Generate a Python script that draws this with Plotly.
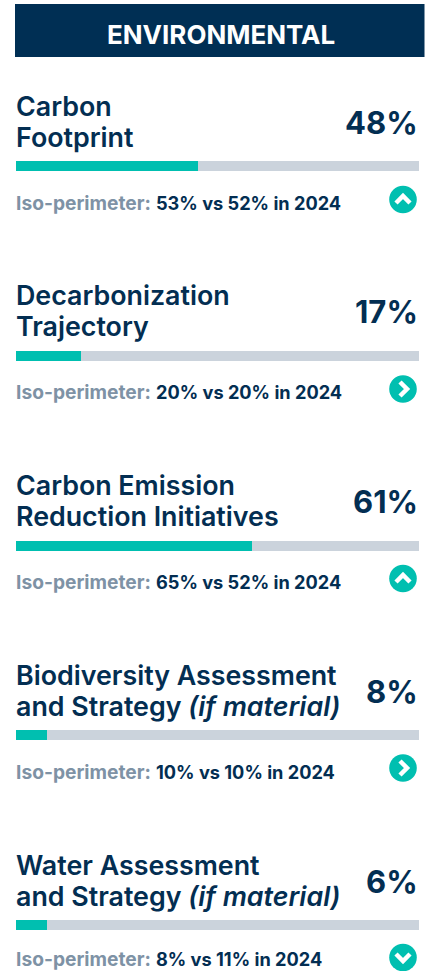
import plotly.graph_objects as go

HEADER = "ENVIRONMENTAL"
TITLE_LINE1 = ["Carbon", "Decarbonization", "Carbon Emission", "Biodiversity Assessment", "Water Assessment"]
TITLE_LINE2 = ["Footprint", "Trajectory", "Reduction Initiatives", "and Strategy <i>(if material)</i>", "and Strategy <i>(if material)</i>"]
VALUE_LABELS = ["48%", "17%", "61%", "8%", "6%"]
BAR_FILL = [45.2, 16.0, 58.5, 7.8, 7.8]
ISO_LABEL = "Iso-perimeter:"
ISO_CURRENT = ["53%", "20%", "65%", "10%", "8%"]
ISO_PRIOR = ["52%", "20%", "52%", "10%", "11%"]
TRENDS = ["up", "flat", "up", "flat", "down"]

NAVY = "#032E52"
TEAL = "#00BFB0"
TRACK = "#CBD3DC"
GREY = "#7E92A5"
W, H = 427, 971
FONT = "Inter"
ROW0, STEP = 166.0, 189.75
ICON0, ICON_STEP = 199.5, 189.5
X0, X1 = 15.5, 419.0
rows = list(range(len(BAR_FILL)))

fig = go.Figure()
fig.add_trace(go.Bar(x=[100] * len(rows), y=rows, orientation="h", width=10 / STEP,
                     marker=dict(color=TRACK, line_width=0), hoverinfo="skip", showlegend=False))
fig.add_trace(go.Bar(x=BAR_FILL, y=rows, orientation="h", width=10 / STEP,
                     marker=dict(color=TEAL, line_width=0), showlegend=False))
fig.add_trace(go.Scatter(x=[0], y=[0], xaxis="x2", yaxis="y2", mode="markers",
                         marker=dict(opacity=0), hoverinfo="skip", showlegend=False))

ann, shapes = [], []


def text(x, y, s, size, color, anchor="left", weight=None):
    f = dict(family=FONT, size=size, color=color)
    if weight:
        f["weight"] = weight
    ann.append(dict(x=x, y=y, xref="x2", yref="y2", text=s, showarrow=False, xanchor=anchor,
                    yanchor="middle", font=f, borderpad=0, borderwidth=0))


shapes.append(dict(type="rect", xref="x2", yref="y2", x0=15, x1=424.5, y0=4, y1=57,
                   fillcolor="#002F54", line_width=0, layer="below"))
text(220.5, 34, HEADER, 26, "#FFFFFF", "center", 700)

CHEV = {"up": [(-7, 3.5), (0, -3.5), (7, 3.5)], "down": [(-7, -3.5), (0, 3.5), (7, -3.5)],
        "flat": [(-3, -7), (4, 0), (-3, 7)]}
for i in rows:
    c = ROW0 + STEP * i
    sub_y = c + 36.5 if i < rows[-1] else H - 12.5
    text(X0, c - 60.5, TITLE_LINE1[i], 26.8, NAVY, weight=600)
    text(X0, c - 29.5, TITLE_LINE2[i], 26.8, NAVY, weight=600)
    text(418, c - 44, VALUE_LABELS[i], 31, NAVY, "right", 700)
    text(X0, sub_y, ISO_LABEL, 19.2, GREY, weight=700)
    text(156, sub_y, f"{ISO_CURRENT[i]} vs {ISO_PRIOR[i]} in 2024", 18.2, NAVY, weight=700)
    cy, cx, r = ICON0 + ICON_STEP * i, 403, 13.8
    shapes.append(dict(type="circle", xref="x2", yref="y2", x0=cx - r, x1=cx + r, y0=cy - r, y1=cy + r,
                       fillcolor=TEAL, line_width=0))
    p = CHEV[TRENDS[i]]
    path = "M" + " L".join(f"{cx + a},{cy + b}" for a, b in p)
    shapes.append(dict(type="path", xref="x2", yref="y2", path=path, fillcolor="rgba(0,0,0,0)",
                       line=dict(color="#FFFFFF", width=4.5)))

hidden = dict(visible=False, showgrid=False, zeroline=False, fixedrange=True)
fig.update_layout(
    width=W, height=H, margin=dict(l=0, r=0, t=0, b=0), barmode="overlay", bargap=0,
    paper_bgcolor="#FFFFFF", plot_bgcolor="rgba(0,0,0,0)", showlegend=False,
    xaxis=dict(range=[0, 100], domain=[X0 / W, X1 / W], **hidden),
    yaxis=dict(range=[(H - ROW0) / STEP, -ROW0 / STEP], **hidden),
    xaxis2=dict(range=[0, W], domain=[0, 1], anchor="y2", **hidden),
    yaxis2=dict(range=[H, 0], domain=[0, 1], anchor="x2", **hidden),
    annotations=ann, shapes=shapes,
)
fig.write_html("out.html", config={"displayModeBar": False},
               post_script="document.body.style.margin='0';document.documentElement.style.overflow='hidden';")
